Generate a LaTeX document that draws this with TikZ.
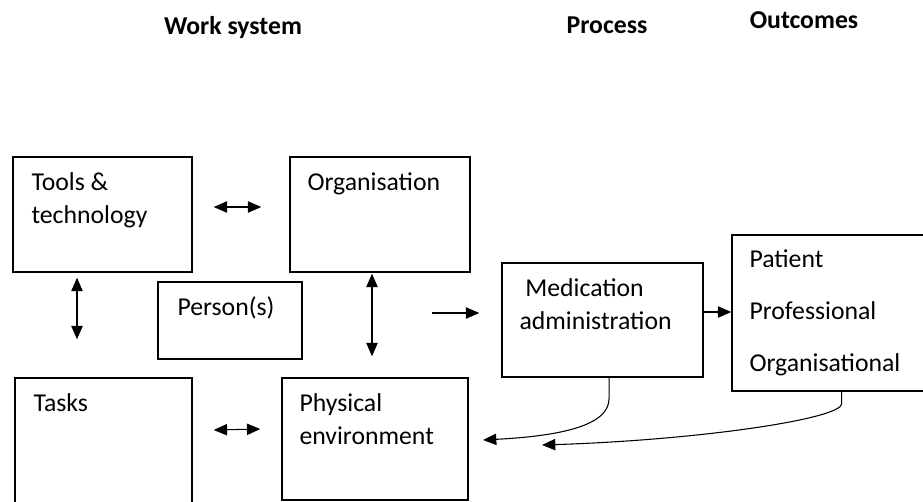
\documentclass[tikz,border=0pt]{standalone}
\usepackage{fontspec}
\setmainfont{Carlito}
\usetikzlibrary{arrows.meta,fit}
\begin{document}
\begin{tikzpicture}[x=0.75pt,y=-0.75pt,
	box/.style={draw,line width=1.1pt,inner sep=0pt},
	txt/.style={anchor=base west,inner sep=0pt,align=left,font=\fontsize{19.3}{24.75}\selectfont},
	head/.style={anchor=base,inner sep=0pt,font=\fontsize{19.3}{24.75}\selectfont\bfseries},
	tip/.tip={Triangle[length=10pt,width=8.5pt]},
	arr/.style={line width=0.8pt,-tip},
	darr/.style={line width=0.8pt,tip-tip}]
	\useasboundingbox (0,0) rectangle (923,501);
	
	\node[head] (ws) at (233,34) {Work system};
	\node[head] (proc) at (607,33) {Process};
	\node[head] (outh) at (804,28) {Outcomes};
	
	\node[box,fit={(13,157) (192,272)}] (tools) {};
	\node[box,fit={(290,157) (470,272)}] (org) {};
	\node[box,fit={(158,282) (302,359)}] (pers) {};
	\node[box,fit={(15,378) (192,512)}] (tasks) {};
	\node[box,fit={(282,378) (468,500)}] (phys) {};
	\node[box,fit={(502,263) (703,377)}] (med) {};
	\node[box,fit={(732,235) (930,391)}] (outc) {};
	
	% base of a multi-line node is its last line
	\node[txt] (toolst) at ([shift={(19,67)}]tools.north west) {Tools \&\\technology};
	\node[txt] (orgt) at ([shift={(18,34)}]org.north west) {Organisation};
	\node[txt] (perst) at ([shift={(20,34)}]pers.north west) {Person(s)};
	\node[txt] (taskst) at ([shift={(19,34)}]tasks.north west) {Tasks};
	\node[txt] (physt) at ([shift={(18,67)}]phys.north west) {Physical\\environment};
	\node[txt] (medt) at ([shift={(18,67)}]med.north west) {\ Medication\\administration};
	\node[txt] (outct) at ([shift={(18,137)}]outc.north west) {Patient\\[14pt]Professional\\[14pt]Organisational};
	
	\draw[darr] ([shift={(21,-7.5)}]tools.east) -- ([shift={(-28,-7.5)}]org.west);
	\draw[darr] ([shift={(21,-15)}]tasks.east) -- ([shift={(-21,-10)}]phys.west);
	\draw[darr] ([shift={(-25.5,5)}]tools.south) -- ([shift={(-26.5,-38)}]tasks.north);
	\draw[darr] ([shift={(-8,1)}]org.south) -- ([shift={(-3,-21)}]phys.north);
	\draw[arr] ([shift={(-69,-7)}]med.west) -- ([shift={(-22,-7)}]med.west);
	\draw[arr] ([shift={(0,-8)}]med.east) -- ([shift={(0,-1)}]outc.west);
	
	\coordinate (pe1) at (483,440);
	\coordinate (pe2) at (542,445);
	\draw[arr] ([xshift=4.9pt]med.south) -- ++(0,21) .. controls +(0,27) and (560,436) .. (pe1);
	\draw[arr] ([xshift=8pt]outc.south) -- ++(0,12) .. controls +(0,15) and (700,440) .. (pe2);
\end{tikzpicture}
\end{document}
